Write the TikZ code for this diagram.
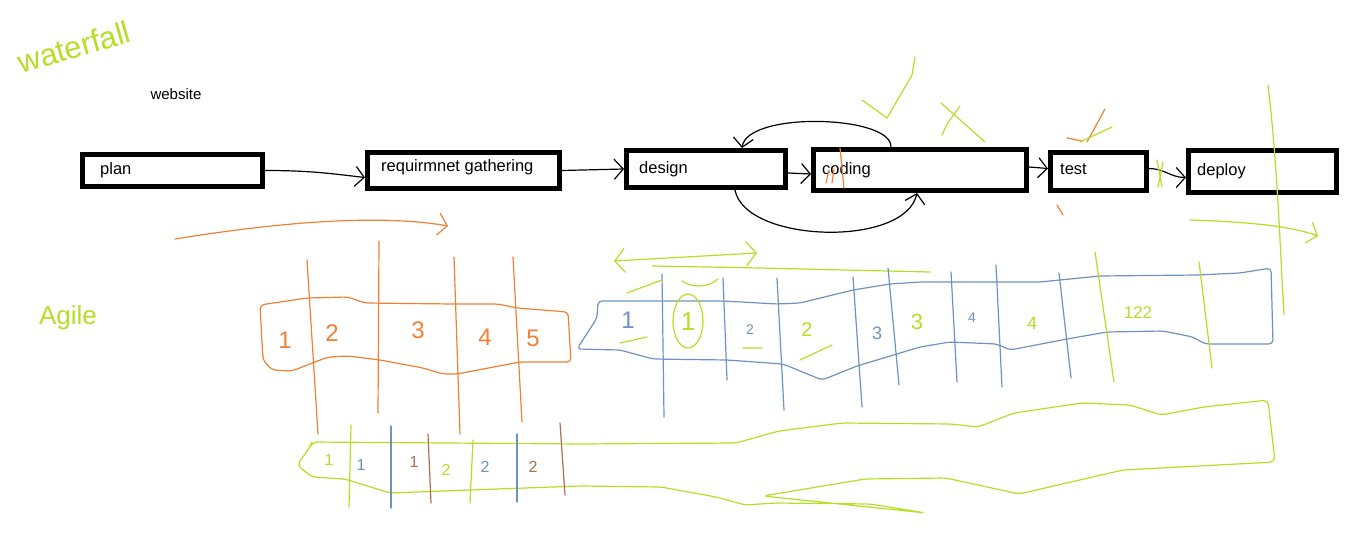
\documentclass[tikz,border=0pt]{standalone}
\usepackage{fontspec}
\setmainfont{Liberation Sans}
\usepackage{tikz}
\usetikzlibrary{arrows.meta, positioning}

\definecolor{paintlime}{RGB}{181,222,38}
\definecolor{paintorange}{RGB}{240,128,52}
\definecolor{paintblue}{RGB}{112,146,190}
\definecolor{paintbrown}{RGB}{168,112,82}

\begin{document}
\begin{tikzpicture}[x=1pt, y=-1pt,
    phase/.style={draw, line width=5pt, inner sep=0pt},
    lbl/.style={inner sep=0pt, font=\fontsize{16.5}{19}\selectfont},
    pen/.style={line width=1.2pt, line cap=round, line join=round},
    arr/.style={pen, -{Straight Barb[length=9pt, width=20pt]}},
    hand/.style={inner sep=0pt, font=\fontsize{#1}{#1}\selectfont},
    hand/.default=20]
  \useasboundingbox (0,0) rectangle (1351,540);

  % handwritten titles
  \node[hand=31, text=paintlime, rotate=16] (waterfall) at (74,47) {waterfall};
  \node[hand=26, text=paintlime] (agile) at (68,318) {Agile};
  \node[lbl, font=\fontsize{15}{18}\selectfont] (website) at (176,94) {website};

  % waterfall phases
  \node[phase, minimum width=180, minimum height=32] (plan) at (172.5,170.5) {};
  \node[phase, minimum width=192, minimum height=36] (req) at (463.5,170.5) {};
  \node[phase, minimum width=159, minimum height=37] (design) at (706,169) {};
  \node[phase, minimum width=213, minimum height=41] (coding) at (920,170) {};
  \node[phase, minimum width=96, minimum height=38] (test) at (1098.5,171.5) {};
  \node[phase, minimum width=148, minimum height=42] (deploy) at (1262.5,171.5) {};

  \node[lbl, right=20pt of plan.west] (plan-text) {plan};
  \node[lbl, right=16pt of req.west, yshift=3pt] (req-text) {requirmnet gathering};
  \node[lbl, right=15pt of design.west] (design-text) {design};
  \node[lbl, right=11pt of coding.west] (coding-text) {coding};
  \node[lbl, right=12pt of test.west, yshift=2pt] (test-text) {test};
  \node[lbl, right=11pt of deploy.west] (deploy-text) {deploy};

  \draw[arr] (plan.east) .. controls +(45,0) and +(-35,-4) .. ([yshift=-7pt]req.west);
  \draw[arr] (req.east) -- (design.west);
  \draw[arr] ([yshift=-4pt]design.east) -- ([yshift=-4pt]coding.west);
  \draw[arr] ([yshift=3pt]coding.east) -- ([yshift=3pt]test.west);
  \draw[arr] ([yshift=3pt]test.east) .. controls +(15,0) and +(-15,0) .. ([yshift=-6pt]deploy.west);
  \draw[arr] ([xshift=-29pt]coding.north) .. controls +(1,-32) and +(5,-37) .. ([xshift=36pt]design.north);
  \draw[arr] ([xshift=29pt]design.south) .. controls +(10,53) and +(-12,55) .. ([xshift=-3pt]coding.south);

  % marks on the phases
  \draw[pen, paintorange] (840,148) -- (844,188);
  \draw[pen, paintorange] (826,183) -- (829,170) (832,183) -- (834,169);
  \draw[pen, paintlime] (862,100) -- (887,118) -- (912,75) -- (915,57);
  \draw[pen, paintlime] (941,103) -- (985,142) (942,135) -- (947,124) -- (960,106);
  \draw[pen, paintorange] (1105,109) -- (1087,142) (1067,138) -- (1082,141);
  \draw[pen, paintlime] (1080,142) -- (1112,127);
  \draw[pen, paintorange] (1057,205) -- (1063,215);
  \draw[pen, paintlime] (1157,160) -- (1162,187) (1158,187) -- (1163,162);
  \draw[pen, paintlime] (1268,85) .. controls (1278,170) and (1280,250) .. (1284,315);

  \draw[pen, paintorange, -{Straight Barb[length=9pt, width=22pt]}]
    (175,239) .. controls (280,222) and (380,214) .. (448,226);
  \draw[pen, paintlime, -{Straight Barb[length=9pt, width=22pt]}]
    (1190,220) .. controls (1250,222) and (1290,226) .. (1318,236);

  % orange sprint strip
  \draw[pen, paintorange, rounded corners=4pt] (260,305) -- (307,298) -- (348,297) -- (365,303)
    -- (453,304) -- (498,304) -- (517,308) -- (568,312) -- (571,362) -- (520,362) -- (457,374)
    -- (443,374) -- (423,368) -- (380,360) -- (348,356) -- (328,357) -- (292,371) -- (272,370)
    -- (263,360) -- cycle;
  \foreach \xa/\ya/\xb/\yb in {307/260/318/434, 379/241/378/413, 454/257/460/434, 513/257/522/422}
    \draw[pen, paintorange] (\xa,\ya) -- (\xb,\yb);
  \foreach \x/\y/\d in {285/340/1, 332/333/2, 418/330/3, 485/337/4, 533/338/5}
    \node[hand=24, text=paintorange] (orange-\d) at (\x,\y) {\d};

  % blue sprint strip
  \draw[pen, paintlime, {Straight Barb[length=10pt, width=24pt]}-{Straight Barb[length=10pt, width=24pt]}]
    (614,261) -- (757,253);
  \draw[pen, paintlime] (652,266) -- (760,268) -- (930,272);
  \draw[pen, paintblue, rounded corners=4pt] (598,301) -- (723,301) -- (777,304) -- (800,303)
    -- (853,290) -- (890,284) -- (920,282) -- (1040,282) -- (1100,276) -- (1198,275) -- (1240,273)
    -- (1271,268) -- (1273,344) -- (1205,344) -- (1193,337) -- (1163,331) -- (1107,332) -- (1067,339)
    -- (1010,350) -- (997,344) -- (950,342) -- (920,347) -- (857,366) -- (822,380) -- (783,364)
    -- (727,360) -- (653,359) -- (620,350) -- (577,349) -- (597,318) -- cycle;
  \foreach \xa/\ya/\xb/\yb in {662/274/664/417, 723/278/727/380, 777/278/784/410, 853/277/862/407,
      888/268/899/385, 951/272/957/382, 996/265/1002/387, 1059/273/1071/378}
    \draw[pen, paintblue] (\xa,\ya) -- (\xb,\yb);
  \foreach \xa/\ya/\xb/\yb in {1095/252/1114/382, 1199/262/1212/368}
    \draw[pen, paintlime] (\xa,\ya) -- (\xb,\yb);
  \foreach \x/\y/\c/\s/\d in {628/320/paintblue/24/1, 688/322/paintlime/26/1, 750/330/paintblue/14/2,
      807/330/paintlime/20/2, 877/333/paintblue/18/3, 917/322/paintlime/22/3, 972/318/paintblue/14/4,
      1032/323/paintlime/18/4, 1138/313/paintlime/17/122}
    \node[hand=\s, text=\c] (blue-\x) at (\x,\y) {\d};
  \draw[pen, paintlime] (688,321) ellipse [x radius=15pt, y radius=27pt];
  \draw[pen, paintlime] (627,293) -- (662,280) (682,281) .. controls (692,288) and (708,288) .. (718,279);
  \draw[pen, paintlime] (620,343) -- (647,337) (743,348) -- (762,348) (800,360) -- (832,345);

  % green sprint strip
  \draw[pen, paintlime, rounded corners=5pt] (312,442) -- (580,444) -- (736,443) -- (779,431)
    -- (842,423) -- (951,424) -- (978,427) -- (1014,413) -- (1082,403) -- (1130,405) -- (1161,415)
    -- (1204,407) -- (1268,400) -- (1275,462) -- (1123,470) -- (1019,494) -- (946,478) -- (865,479)
    -- (763,496) -- (926,513) -- (870,504) -- (775,503) -- (745,505) -- (716,497) -- (661,487)
    -- (580,486) -- (470,490) -- (390,493) -- (345,479) -- (312,477) -- (297,465) -- (310,447) -- cycle;
  \foreach \xa/\ya/\xb/\yb/\c in {351/425/349/507/paintlime, 391/426/391/508/paintblue,
      428/434/431/503/paintbrown, 473/440/470/503/paintlime, 517/434/517/502/paintblue,
      560/423/565/495/paintbrown}
    \draw[pen, \c] (\xa,\ya) -- (\xb,\yb);
  \foreach \x/\y/\c/\d in {329/460/paintlime/1, 361/465/paintblue/1, 414/462/paintbrown/1,
      446/470/paintlime/2, 485/467/paintblue/2, 533/467/paintbrown/2}
    \node[hand=16, text=\c] (green-\x) at (\x,\y) {\d};
\end{tikzpicture}
\end{document}
